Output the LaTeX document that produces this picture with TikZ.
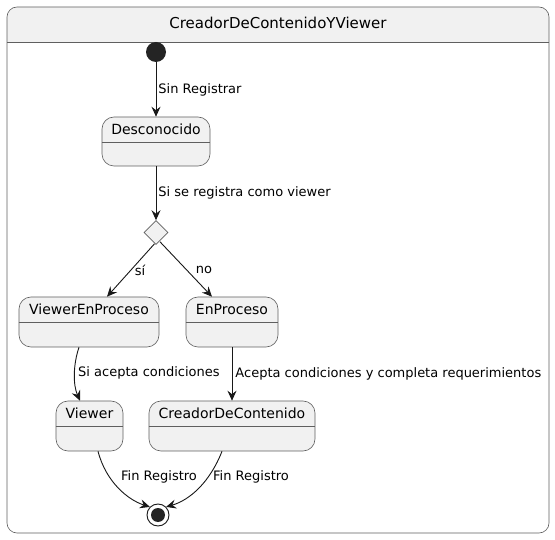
\documentclass[tikz,border=0pt]{standalone}
\usepackage{fontspec}
\setmainfont{DejaVu Sans}
\usetikzlibrary{arrows.meta,shapes.geometric}
\definecolor{stfill}{HTML}{F1F1F1}
\definecolor{stborder}{HTML}{5F5F5F}
\definecolor{arr}{HTML}{181818}
\tikzset{
  stbox/.style={draw=stborder, fill=stfill, rounded corners=12pt, line width=0.6pt, inner sep=0pt},
  stline/.style={draw=stborder, line width=0.6pt},
  stname/.style={font=\fontsize{14}{16}\selectfont, inner sep=0pt, text=black},
  lbl/.style={font=\fontsize{13}{15}\selectfont, inner sep=0pt, text=black},
  conn/.style={draw=arr, line width=0.9pt, -{Stealth[length=10pt,width=9pt,inset=3.5pt]}},
}
\begin{document}
\begin{tikzpicture}[x=1pt,y=-1pt]
\useasboundingbox (0,0) rectangle (555,540);
% outer composite state
\fill[white, rounded corners=10pt] (7,7) rectangle (549,533);
\fill[stfill] (7,42.5) [rounded corners=10pt] -- (7,7) -- (549,7) [sharp corners] -- (549,42.5) -- cycle;
\draw[stline, rounded corners=10pt] (7,7) rectangle (549,533);
\draw[stline] (7,42.5) -- (549,42.5);
\node[stname, font=\fontsize{15}{17}\selectfont] (title) at (278,23) {CreadorDeContenidoYViewer};
% initial
\node[circle, fill=arr!95, minimum size=20pt, inner sep=0pt] (init) at (156,52) {};
% Desconocido
\node[stbox, minimum width=108pt, minimum height=49pt] (des) at (156,141.5) {};
\draw[stline] ([yshift=-26pt]des.north west) -- ([yshift=-26pt]des.north east);
\node[stname] at ([yshift=-13pt]des.north) {Desconocido};
% choice
\node[diamond, draw=stborder, fill=stfill, line width=0.6pt, minimum size=24pt, inner sep=0pt] (ch) at (156,232.5) {};
% ViewerEnProceso
\node[stbox, minimum width=140pt, minimum height=50pt] (vep) at (89,322) {};
\draw[stline] ([yshift=-26pt]vep.north west) -- ([yshift=-26pt]vep.north east);
\node[stname] at ([yshift=-13pt]vep.north) {ViewerEnProceso};
% EnProceso
\node[stbox, minimum width=92pt, minimum height=50pt] (ep) at (232,322) {};
\draw[stline] ([yshift=-26pt]ep.north west) -- ([yshift=-26pt]ep.north east);
\node[stname] at ([yshift=-13pt]ep.north) {EnProceso};
% Viewer
\node[stbox, minimum width=67pt, minimum height=50pt] (vw) at (89.5,426) {};
\draw[stline] ([yshift=-26pt]vw.north west) -- ([yshift=-26pt]vw.north east);
\node[stname] at ([yshift=-13pt]vw.north) {Viewer};
% CreadorDeContenido
\node[stbox, minimum width=166pt, minimum height=50pt] (cdc) at (232,426) {};
\draw[stline] ([yshift=-26pt]cdc.north west) -- ([yshift=-26pt]cdc.north east);
\node[stname] at ([yshift=-13pt]cdc.north) {CreadorDeContenido};
% final
\node[circle, draw=arr, line width=0.9pt, fill=white, minimum size=22pt, inner sep=0pt] (fin) at (158,515) {};
\node[circle, fill=arr!95, minimum size=14pt, inner sep=0pt] (finin) at (fin) {};
% connectors
\draw[conn] (init) -- (des.north) node[lbl, pos=0.5, anchor=west, xshift=2pt] {Sin Registrar};
\draw[conn] (des.south) -- (ch.north) node[lbl, pos=0.5, anchor=west, xshift=2pt] {Si se registra como viewer};
\draw[conn] ([xshift=-1.5pt,yshift=1pt]ch.south) -- ([xshift=18pt]vep.north);
\node[lbl] (lsi) at (140,270) {sí};
\draw[conn] ([xshift=4pt,yshift=3pt]ch.south) -- ([xshift=-20pt]ep.north);
\node[lbl] (lno) at (204,270) {no};
\draw[conn] ([xshift=-10pt]vep.south) .. controls (73,365) and (73,385) .. ([xshift=-9.5pt]vw.north);
\node[lbl, anchor=west] (l1) at (78,373) {Si acepta condiciones};
\draw[conn] (ep.south) -- (cdc.north) node[lbl, pos=0.5, anchor=west, xshift=3pt] {Acepta condiciones y completa requerimientos};
\draw[conn] ([xshift=8.5pt]vw.south) .. controls (106,482) and (128,500) .. (fin.north west);
\node[lbl, anchor=west] (l2) at (121,477) {Fin Registro};
\draw[conn] ([xshift=-10pt]cdc.south) .. controls (210,482) and (190,500) .. (fin.north east);
\node[lbl, anchor=west] (l3) at (213,477) {Fin Registro};
\end{tikzpicture}
\end{document}
